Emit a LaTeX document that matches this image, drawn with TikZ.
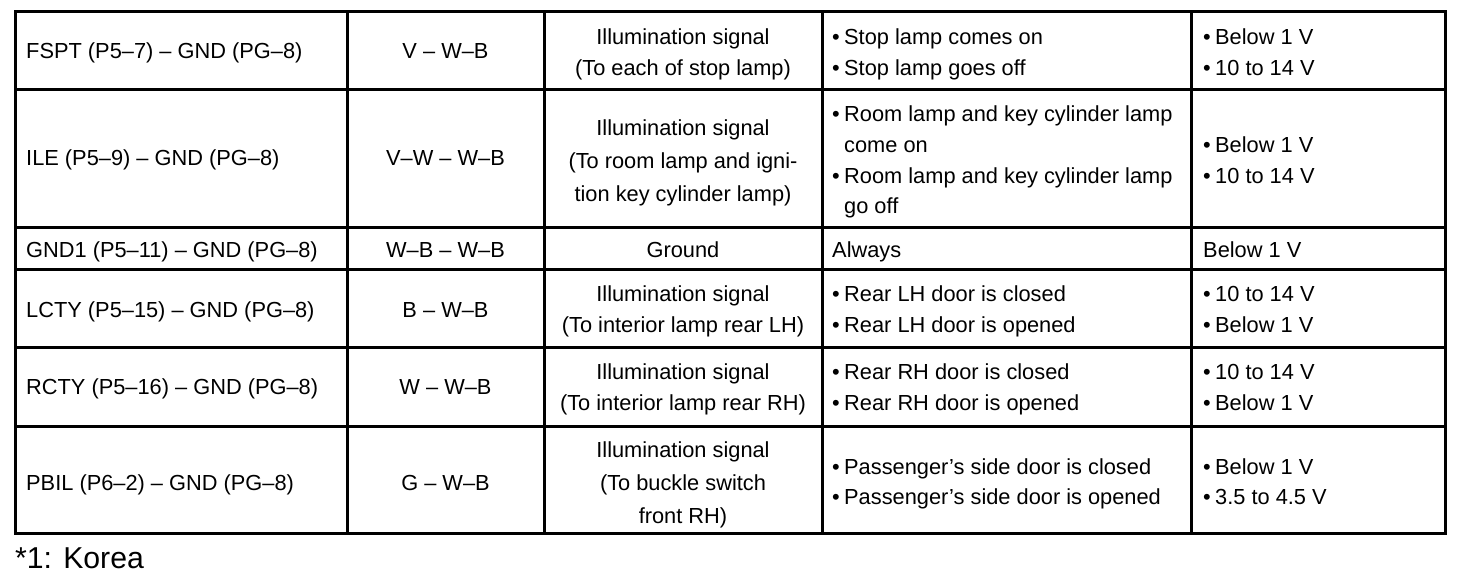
\documentclass[tikz,border=0pt]{standalone}
\usepackage{fontspec}
\setmainfont{Liberation Sans}
\begin{document}
\begin{tikzpicture}[x=1pt,y=-1pt,
  every node/.style={inner sep=0pt, font=\fontsize{21.8}{31}\selectfont},
  L/.style={anchor=base west},
  C/.style={anchor=base},
  grid/.style={line width=3pt, line cap=rect}]
\useasboundingbox (0,0) rectangle (1472,582);
% grid
\draw[grid] (15,11) rectangle (1445,533);
\foreach \x in {347,544,822,1191} \draw[grid] (\x,11) -- (\x,533);
\foreach \y in {89,227,269,347,426} \draw[grid] (15,\y) -- (1445,\y);
\newcommand{\bl}{\makebox[12pt][l]{•}}
% row 1
\node[L] (r1a) at (26,58) {FSPT (P5–7) – GND (PG–8)};
\node[C] (r1b) at (445.5,58) {V – W–B};
\node[C] (r1c1) at (683,44.5) {Illumination signal};
\node[C] (r1c2) at (683,75.5) {(To each of stop lamp)};
\node[L] (r1d1) at (832,44.5) {\bl Stop lamp comes on};
\node[L] (r1d2) at (832,75.5) {\bl Stop lamp goes off};
\node[L] (r1e1) at (1203,44.5) {\bl Below 1 V};
\node[L] (r1e2) at (1203,75.5) {\bl 10 to 14 V};
% row 2
\node[L] (r2a) at (26,165.5) {ILE (P5–9) – GND (PG–8)};
\node[C] (r2b) at (445.5,165.5) {V–W – W–B};
\node[C] (r2c1) at (683,135.5) {Illumination signal};
\node[C] (r2c2) at (683,168.5) {(To room lamp and igni-};
\node[C] (r2c3) at (683,201.5) {tion key cylinder lamp)};
\node[L] (r2d1) at (832,121.5) {\bl Room lamp and key cylinder lamp};
\node[L] (r2d2) at (844,152.5) {come on};
\node[L] (r2d3) at (832,183.5) {\bl Room lamp and key cylinder lamp};
\node[L] (r2d4) at (844,213.5) {go off};
\node[L] (r2e1) at (1203,152.5) {\bl Below 1 V};
\node[L] (r2e2) at (1203,183.5) {\bl 10 to 14 V};
% row 3
\node[L] (r3a) at (26,257.5) {GND1 (P5–11) – GND (PG–8)};
\node[C] (r3b) at (445.5,257.5) {W–B – W–B};
\node[C] (r3c) at (683,257.5) {Ground};
\node[L] (r3d) at (832,257.5) {Always};
\node[L] (r3e) at (1203,257.5) {Below 1 V};
% row 4
\node[L] (r4a) at (26,317.5) {LCTY (P5–15) – GND (PG–8)};
\node[C] (r4b) at (445.5,317.5) {B – W–B};
\node[C] (r4c1) at (683,301.5) {Illumination signal};
\node[C] (r4c2) at (683,332.5) {(To interior lamp rear LH)};
\node[L] (r4d1) at (832,301.5) {\bl Rear LH door is closed};
\node[L] (r4d2) at (832,332.5) {\bl Rear LH door is opened};
\node[L] (r4e1) at (1203,301.5) {\bl 10 to 14 V};
\node[L] (r4e2) at (1203,332.5) {\bl Below 1 V};
% row 5
\node[L] (r5a) at (26,394.5) {RCTY (P5–16) – GND (PG–8)};
\node[C] (r5b) at (445.5,394.5) {W – W–B};
\node[C] (r5c1) at (683,379.5) {Illumination signal};
\node[C] (r5c2) at (683,410.5) {(To interior lamp rear RH)};
\node[L] (r5d1) at (832,379.5) {\bl Rear RH door is closed};
\node[L] (r5d2) at (832,410.5) {\bl Rear RH door is opened};
\node[L] (r5e1) at (1203,379.5) {\bl 10 to 14 V};
\node[L] (r5e2) at (1203,410.5) {\bl Below 1 V};
% row 6
\node[L] (r6a) at (26,490.5) {PBIL (P6–2) – GND (PG–8)};
\node[C] (r6b) at (445.5,490.5) {G – W–B};
\node[C] (r6c1) at (683,457.5) {Illumination signal};
\node[C] (r6c2) at (683,490.5) {(To buckle switch};
\node[C] (r6c3) at (683,523.5) {front RH)};
\node[L] (r6d1) at (832,474.5) {\bl Passenger's side door is closed};
\node[L] (r6d2) at (832,504.5) {\bl Passenger's side door is opened};
\node[L] (r6e1) at (1203,474.5) {\bl Below 1 V};
\node[L] (r6e2) at (1203,504.5) {\bl 3.5 to 4.5 V};
% footnote
\node[L, font=\fontsize{30.2}{35}\selectfont] (note) at (15,568) {*1: Korea};
\end{tikzpicture}
\end{document}
